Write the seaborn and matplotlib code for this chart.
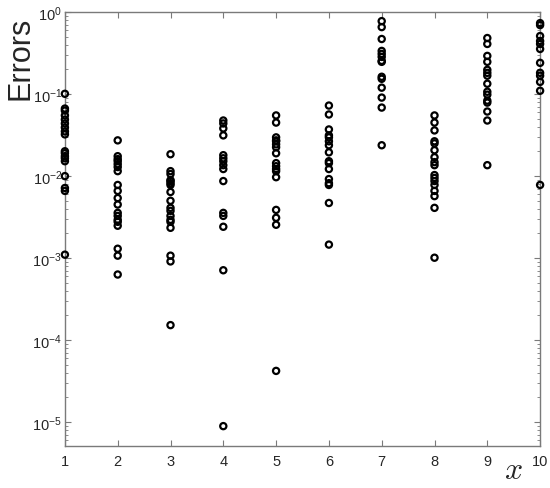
import matplotlib
matplotlib.use("Agg")
import matplotlib.pyplot as plt
import matplotlib.ticker as ticker
import numpy as np
import pandas as pd
import seaborn as sns

# %% DATOS
err_1 = [0.101, 0.0667, 0.063, 0.055, 0.049, 0.0439, 0.0392, 0.0351, 0.0323,
         0.0201, 0.019, 0.0175, 0.0165, 0.0152, 0.01, 0.00716, 0.0066, 0.0011]
err_2 = [0.0273, 0.0175, 0.0161, 0.0152, 0.014, 0.0129, 0.0115, 0.0078, 0.0066,
         0.0054, 0.0045, 0.00356, 0.00327, 0.00293, 0.00277, 0.00248, 0.0013,
         0.00107, 0.00063]
err_3 = [0.0185, 0.0115, 0.0106, 0.00895, 0.0087, 0.0082, 0.0078, 0.0064, 0.005,
         0.0041, 0.00377, 0.00327, 0.00293, 0.00277, 0.00234, 0.00107, 0.00091,
         0.000152]
err_4 = [0.0477, 0.0439, 0.0382, 0.0314, 0.018, 0.0165, 0.0152, 0.0136, 0.0122,
         0.0087, 0.00356, 0.00327, 0.00241, 0.00071, 8.9e-6]
err_5 = [0.055, 0.045, 0.0297, 0.0273, 0.0266, 0.0244, 0.0225, 0.019, 0.0144,
         0.0132, 0.0122, 0.0115, 0.0097, 0.00387, 0.0031, 0.00255, 4.2e-5]
err_6 = [0.0726, 0.0565, 0.0371, 0.0314, 0.0297, 0.0266, 0.0238, 0.0195, 0.0152,
         0.0144, 0.0122, 0.0092, 0.0082, 0.0078, 0.0047, 0.00146]
err_7 = [0.778, 0.658, 0.471, 0.337, 0.31, 0.285, 0.255, 0.248, 0.163, 0.154,
         0.12, 0.0908, 0.0686, 0.0238]
err_8 = [0.055, 0.045, 0.0361, 0.0266, 0.0251, 0.0207, 0.017, 0.0148, 0.0136,
         0.0103, 0.0095, 0.0087, 0.0078, 0.0066, 0.0057, 0.0041, 0.00101]
err_9 = [0.484, 0.41, 0.293, 0.248, 0.198, 0.182, 0.168, 0.134, 0.107, 0.0986,
         0.0834, 0.0789, 0.0614, 0.0477, 0.0136]
err_10 = [0.736, 0.696, 0.512, 0.445, 0.41, 0.356, 0.241, 0.182, 0.168, 0.141,
          0.11, 0.0078]

columnas = [1, 2, 3, 4, 5, 6, 7, 8, 9, 10]
errores = [err_1, err_2, err_3, err_4, err_5, err_6, err_7, err_8, err_9, err_10]

datos = pd.DataFrame({
    "x": [c for c, e in zip(columnas, errores) for _ in e],
    "err": [v for e in errores for v in e],
})

# %% GRAFICO
sns.set_style("ticks")
plt.rcParams['font.family'] = ['Liberation Sans', 'DejaVu Sans']

gris_eje = "#7a7a7a"
gris_txt = "#262626"

fig = plt.figure(figsize=(5.5, 4.89), dpi=100)
ax = fig.add_axes([0.118, 0.086, 0.864, 0.887])

sns.scatterplot(data=datos, x="x", y="err", ax=ax, marker="o", s=20,
                facecolor="none", edgecolor="black", linewidth=1.6,
                clip_on=False, legend=False, zorder=5)

ax.set_yscale("log")
ax.set_xlim(1, 10)
ax.set_ylim(5.1e-6, 1)
ax.set_xticks(columnas)
ax.set_yticks([1e-5, 1e-4, 1e-3, 1e-2, 1e-1, 1e0])
ax.yaxis.set_minor_locator(ticker.LogLocator(base=10, subs=np.arange(2, 10), numticks=100))
ax.yaxis.set_minor_formatter(ticker.NullFormatter())

for lado in ax.spines.values():
    lado.set_visible(True)
    lado.set_color(gris_eje)
    lado.set_linewidth(1.0)

ax.tick_params(which="both", direction="in", left=True, bottom=True,
               top=True, right=True,
               color=gris_eje, labelcolor=gris_txt, labelsize=10.5)
ax.tick_params(which="major", length=4, width=0.8)
ax.tick_params(which="minor", length=2.5, width=0.6)
ax.tick_params(axis="x", which="minor", top=False, bottom=False)
ax.tick_params(axis="x", pad=6)
ax.tick_params(axis="y", pad=2)

ax.set_ylabel("Errors", fontsize=22, color=gris_txt)
ax.yaxis.set_label_coords(-0.062, 0.895)
ax.set_xlabel("$x$", fontsize=23, color=gris_txt, math_fontfamily="cm")
ax.xaxis.set_label_coords(0.943, -0.02)

fig.savefig("out.png", dpi=100)
